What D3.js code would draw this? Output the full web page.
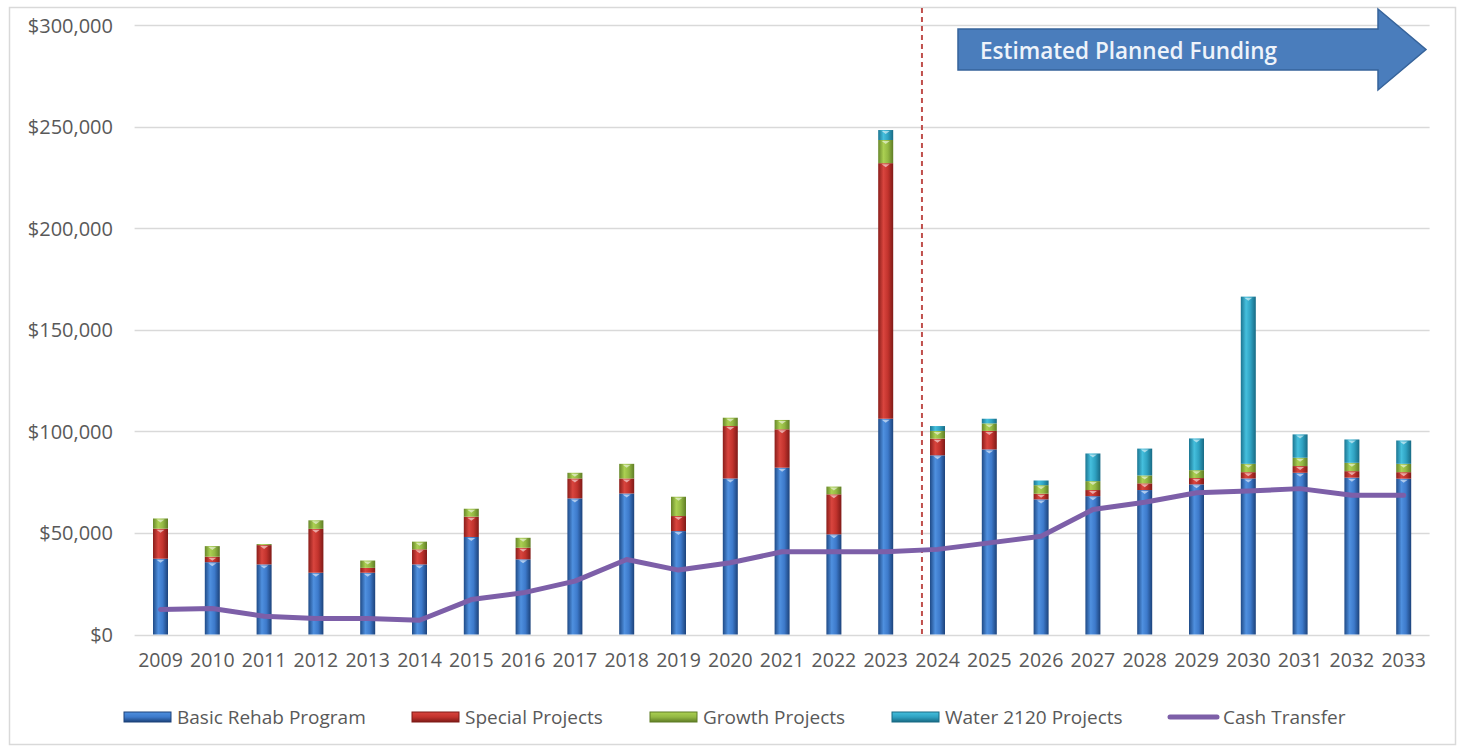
<!DOCTYPE html>
<html>
<head>
<meta charset="utf-8">
<script src="https://cdn.jsdelivr.net/npm/d3@7"></script>
<style>
  html, body { margin: 0; padding: 0; background: #fff; }
  svg { display: block; }
  text { font-family: "Open Sans", "DejaVu Sans", sans-serif; }
</style>
</head>
<body>
<svg id="chart" width="1463" height="749"></svg>
<script>
const years = ["2009","2010","2011","2012","2013","2014","2015","2016","2017","2018","2019","2020","2021","2022","2023","2024","2025","2026","2027","2028","2029","2030","2031","2032","2033"];
const basicRehab = [37300,35600,34500,30400,30400,34500,48000,37000,67000,69400,50900,76800,82100,49300,106200,88200,91100,66500,68100,71100,73900,76800,79600,77200,76700];
const specialProjects = [14800,2700,9500,21600,2400,7400,10000,5700,9800,7400,7400,25800,18900,19700,125800,8200,9100,2800,3000,3300,3100,3100,3300,3200,3200];
const growthProjects = [5000,5200,500,4200,3600,3800,3900,4900,2800,7200,9500,4100,4600,3800,11400,3800,3700,4200,4400,3900,3900,4100,4100,4100,4100];
const water2120 = [0,0,0,0,0,0,0,0,0,0,0,0,0,0,4900,2400,2300,2300,13600,13200,15600,82300,11500,11500,11500];
const cashTransfer = [12300,12800,9000,7900,7900,7000,17200,20500,26300,36900,31700,35300,40700,40700,40700,41900,45100,48400,61500,65100,69800,70600,71800,68500,68500];
const yTicks = [0,50000,100000,150000,200000,250000,300000];
const seriesNames = ["Basic Rehab Program","Special Projects","Growth Projects","Water 2120 Projects"];
const lineName = "Cash Transfer";
const plannedStartYear = "2024";
const annotationText = "Estimated Planned Funding";

const svg = d3.select("#chart");

// frame
svg.append("rect").attr("x", 9.5).attr("y", 7.5).attr("width", 1446).attr("height", 737)
  .attr("fill", "#fff").attr("stroke", "#d9d9d9").attr("stroke-width", 1.5);

const x = d3.scaleBand().domain(years).range([134.6, 1429.6]).paddingInner(0.71).paddingOuter(0.355);
const y = d3.scaleLinear().domain([0, 300000]).range([634.5, 25]);

// gradients
const defs = svg.append("defs");
const palettes = [
  ["#1f4a86", "#4f90df", "#3d7acb", "#1c427a"],
  ["#8a1d1a", "#d9453e", "#c2332d", "#7f1a17"],
  ["#67872a", "#abd052", "#93b843", "#5f7d25"],
  ["#1b7591", "#45bfdd", "#2fa2c2", "#186a84"]
];
palettes.forEach((p, i) => {
  const g = defs.append("linearGradient").attr("id", "g" + i).attr("x1", "0").attr("x2", "1").attr("y1", "0").attr("y2", "0");
  g.append("stop").attr("offset", "0%").attr("stop-color", p[0]);
  g.append("stop").attr("offset", "35%").attr("stop-color", p[1]);
  g.append("stop").attr("offset", "65%").attr("stop-color", p[2]);
  g.append("stop").attr("offset", "100%").attr("stop-color", p[3]);
  const gv = defs.append("linearGradient").attr("id", "gv" + i).attr("x1", "0").attr("x2", "0").attr("y1", "0").attr("y2", "1");
  gv.append("stop").attr("offset", "0%").attr("stop-color", p[1]);
  gv.append("stop").attr("offset", "50%").attr("stop-color", p[2]);
  gv.append("stop").attr("offset", "100%").attr("stop-color", p[3]);
});

// gridlines
svg.append("g").selectAll("line").data(yTicks).join("line")
  .attr("x1", 134.6).attr("x2", 1429.6)
  .attr("y1", d => Math.round(y(d)) + 0.5).attr("y2", d => Math.round(y(d)) + 0.5)
  .attr("stroke", "#d9d9d9").attr("stroke-width", 1.5);

// y axis labels
const yAxis = d3.axisLeft(y).tickValues(yTicks).tickSize(0).tickPadding(0)
  .tickFormat(d => "$" + d3.format(",")(d));
const ya = svg.append("g").attr("transform", "translate(113,0)").call(yAxis);
ya.select(".domain").remove();
ya.selectAll("text").attr("fill", "#595959").style("font-size", "20px").attr("dy", "0.35em");

// x axis labels
const xAxis = d3.axisBottom(x).tickSize(0).tickPadding(0);
const xa = svg.append("g").attr("transform", "translate(0,653)").call(xAxis);
xa.select(".domain").remove();
xa.selectAll("text").attr("fill", "#595959").style("font-size", "19.5px").attr("dy", "0.71em");

// stacked bars
const rows = years.map((yr, i) => ({year: yr, s0: basicRehab[i], s1: specialProjects[i], s2: growthProjects[i], s3: water2120[i]}));
const stack = d3.stack().keys(["s0","s1","s2","s3"]);
const layers = stack(rows);
const bw = 15;
svg.append("g").selectAll("g").data(layers).join("g")
  .attr("fill", (d, i) => "url(#g" + i + ")")
  .selectAll("rect").data(d => d.filter(p => p[1] > p[0])).join("rect")
  .attr("x", d => x(d.data.year) + x.bandwidth() / 2 - bw / 2)
  .attr("width", bw)
  .attr("y", d => y(d[1]))
  .attr("height", d => y(d[0]) - y(d[1]));

// small light caps on segment tops
svg.append("g").selectAll("g").data(layers).join("g")
  .selectAll("path").data(d => d.filter(p => y(p[0]) - y(p[1]) > 5)).join("path")
  .attr("d", d => {
    const cx = x(d.data.year) + x.bandwidth() / 2, ty = y(d[1]) + 1;
    return `M${cx - 4},${ty} L${cx + 4},${ty} L${cx},${ty + 3} Z`;
  })
  .attr("fill", "rgba(255,255,255,0.55)");

// dashed planned line
const step = x.step();
const dashX = x(plannedStartYear) + x.bandwidth() / 2 - 0.3 * step;
svg.append("line").attr("x1", dashX).attr("x2", dashX).attr("y1", 8).attr("y2", 634)
  .attr("stroke", "#c0504d").attr("stroke-width", 2).attr("stroke-dasharray", "5,4");

// cash transfer line
const line = d3.line().x((d, i) => x(years[i]) + x.bandwidth() / 2).y(d => y(d));
svg.append("path").datum(cashTransfer).attr("d", line)
  .attr("fill", "none").attr("stroke", "#7d5fa8").attr("stroke-width", 5)
  .attr("stroke-linejoin", "round").attr("stroke-linecap", "round");

// arrow annotation
const ax0 = 958, ax1 = 1378, axTip = 1426, bodyTop = 29, bodyBot = 70, headTop = 9, headBot = 90;
const midY = (bodyTop + bodyBot) / 2;
svg.append("path")
  .attr("d", `M${ax0},${bodyTop} L${ax1},${bodyTop} L${ax1},${headTop} L${axTip},${midY} L${ax1},${headBot} L${ax1},${bodyBot} L${ax0},${bodyBot} Z`)
  .attr("fill", "#4a7dbc").attr("stroke", "#36639a").attr("stroke-width", 1.5);
svg.append("text").attr("x", 980).attr("y", midY + 1).attr("dy", "0.36em")
  .attr("fill", "#eef3fa").style("font-size", "22.5px").style("font-weight", 600)
  .text(annotationText);

// legend
const legendItems = [
  {name: seriesNames[0], type: "bar", idx: 0, x: 124},
  {name: seriesNames[1], type: "bar", idx: 1, x: 412},
  {name: seriesNames[2], type: "bar", idx: 2, x: 650},
  {name: seriesNames[3], type: "bar", idx: 3, x: 892},
  {name: lineName, type: "line", idx: 4, x: 1170}
];
const lg = svg.append("g").selectAll("g").data(legendItems).join("g")
  .attr("transform", d => `translate(${d.x},717)`);
lg.filter(d => d.type === "bar").append("rect")
  .attr("x", 0).attr("y", -5).attr("width", 47).attr("height", 10)
  .attr("fill", d => "url(#gv" + d.idx + ")").attr("stroke", d => palettes[d.idx][3]).attr("stroke-width", 1);
lg.filter(d => d.type === "line").append("line")
  .attr("x1", 0).attr("x2", 47).attr("y1", 0).attr("y2", 0)
  .attr("stroke", "#7d5fa8").attr("stroke-width", 5).attr("stroke-linecap", "round");
lg.append("text").attr("x", 53).attr("y", 0).attr("dy", "0.35em")
  .attr("fill", "#595959").style("font-size", "19px").text(d => d.name);
</script>
</body>
</html>
